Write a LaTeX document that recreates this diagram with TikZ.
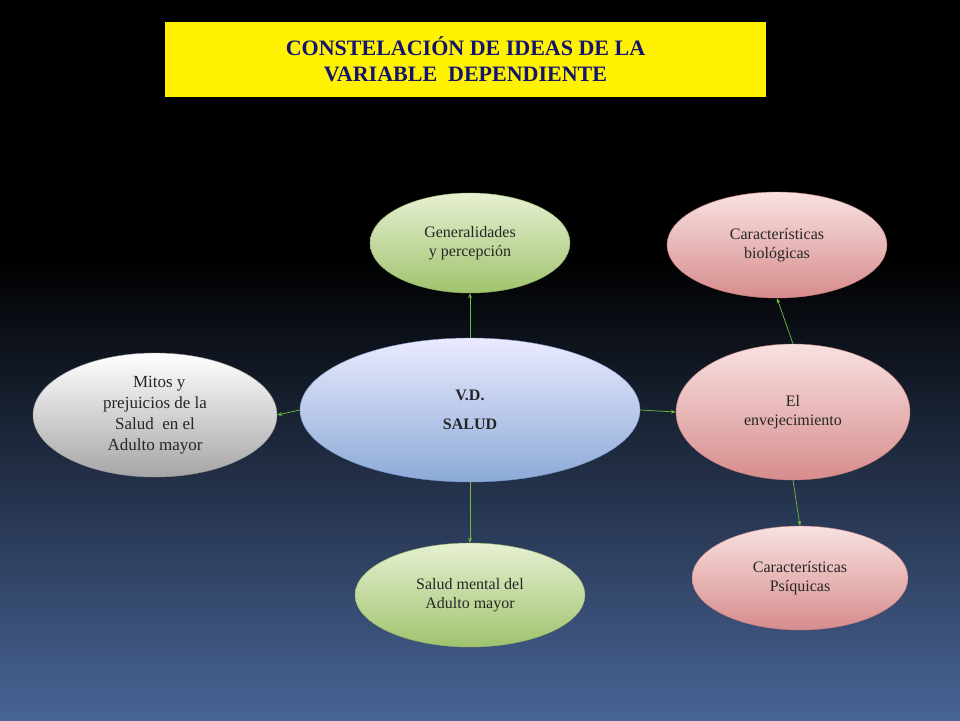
\documentclass[tikz,border=0pt]{standalone}
\usepackage{fontspec}
\setmainfont{Liberation Serif}
\usetikzlibrary{shapes.geometric,arrows.meta}
\definecolor{navy}{RGB}{20,20,110}
\definecolor{bgb}{RGB}{72,100,150}
\definecolor{ar}{RGB}{110,190,60}
\tikzset{
 ell/.style={ellipse,inner sep=0pt,align=center,font=\fontsize{16}{19}\selectfont,text=black!85},
 blu/.style={ell,top color=blue!8,bottom color={rgb,255:red,140;green,170;blue,215},draw={rgb,255:red,120;green,150;blue,200}},
 grn/.style={ell,top color={rgb,255:red,230;green,240;blue,210},bottom color={rgb,255:red,160;green,195;blue,110},draw={rgb,255:red,150;green,180;blue,100}},
 gry/.style={ell,top color=white,bottom color=black!35,draw=black!40},
 pnk/.style={ell,top color={rgb,255:red,248;green,225;blue,225},bottom color={rgb,255:red,215;green,140;blue,140},draw={rgb,255:red,200;green,120;blue,120}},
 conn/.style={draw=ar,-{Stealth[length=5pt]},line width=0.7pt}
}
\begin{document}
\begin{tikzpicture}[x=1pt,y=-1pt]
\useasboundingbox (0,0) rectangle (960,720);
\fill[black] (0,0) rectangle (960,260);
\shade[top color=black,bottom color=bgb] (0,259) rectangle (960,720);
\node[fill=yellow,minimum width=601pt,minimum height=75pt,align=center,text=navy,font=\bfseries\fontsize{22}{26}\selectfont] (title) at (465.5,59.5) {CONSTELACIÓN DE IDEAS DE LA\\VARIABLE\ \ DEPENDIENTE};
\node[blu,minimum width=340pt,minimum height=144pt,font=\bfseries\fontsize{16}{19}\selectfont] (c) at (470,410) {V.D.\\[10pt]SALUD};
\node[grn,minimum width=200pt,minimum height=100pt] (g) at (470,243) {Generalidades\\y percepción};
\node[grn,minimum width=230pt,minimum height=104pt] (s) at (470,595) {Salud mental del\\Adulto mayor};
\node[gry,minimum width=244pt,minimum height=124pt,font=\fontsize{17}{21}\selectfont] (m) at (155,415) {\ \ Mitos y\\prejuicios de la\\Salud\ \ en el\\Adulto mayor};
\node[pnk,minimum width=234pt,minimum height=136pt] (e) at (793,412) {El\\envejecimiento};
\node[pnk,minimum width=220pt,minimum height=106pt] (b) at (777,245) {Características\\biológicas};
\node[pnk,minimum width=216pt,minimum height=104pt] (p) at (800,578) {Características\\Psíquicas};
\draw[conn] (c.north) -- (g.south);
\draw[conn] (c.south) -- (s.north);
\draw[conn] (c.west) -- (m.east);
\draw[conn] (c.east) -- (e.west);
\draw[conn] (e.north) -- (b.south);
\draw[conn] (e.south) -- (p.north);
\end{tikzpicture}
\end{document}
